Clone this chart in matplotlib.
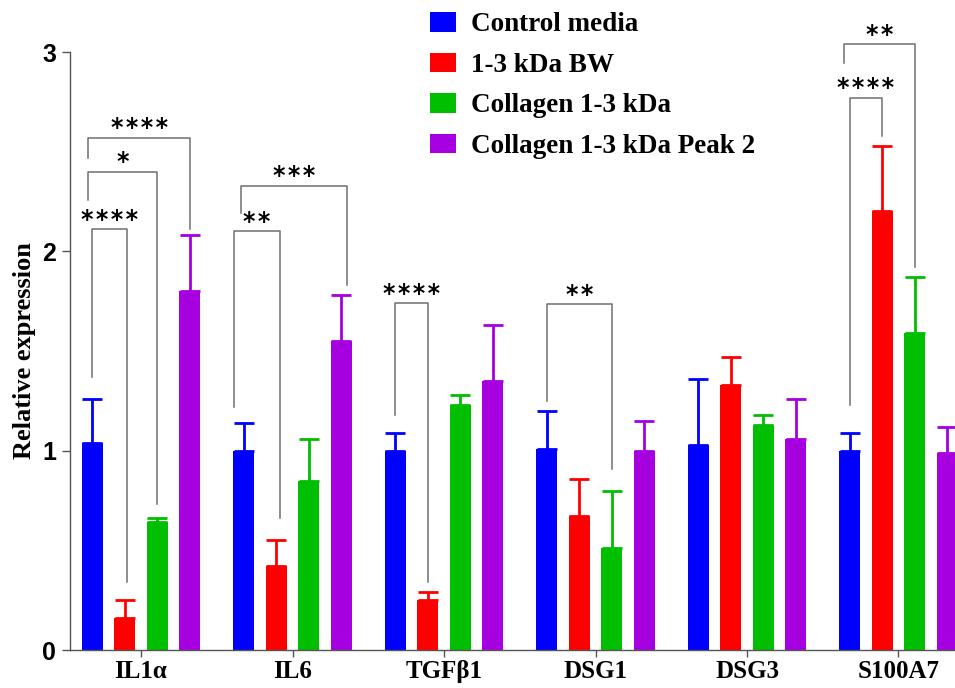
#!/usr/bin/env python3

import matplotlib
matplotlib.use("Agg")
import matplotlib.pyplot as plt
import numpy as np

# Data
genes = ["IL1α", "IL6", "TGFβ1", "DSG1", "DSG3", "S100A7"]
series_names = ["Control media", "1-3 kDa BW", "Collagen 1-3 kDa", "Collagen 1-3 kDa Peak 2"]

control_mean = [1.04, 1.00, 1.00, 1.01, 1.03, 1.00]
control_err = [0.22, 0.14, 0.09, 0.19, 0.33, 0.09]
bw_mean = [0.16, 0.42, 0.25, 0.67, 1.33, 2.20]
bw_err = [0.09, 0.13, 0.04, 0.19, 0.14, 0.33]
coll_mean = [0.64, 0.85, 1.23, 0.51, 1.13, 1.59]
coll_err = [0.02, 0.21, 0.05, 0.29, 0.05, 0.28]
peak2_mean = [1.80, 1.55, 1.35, 1.00, 1.06, 0.99]
peak2_err = [0.28, 0.23, 0.28, 0.15, 0.20, 0.13]

means = [control_mean, bw_mean, coll_mean, peak2_mean]
errs = [control_err, bw_err, coll_err, peak2_err]
colors = ["#0000FF", "#FF0000", "#00BE00", "#A600E0"]

# significance brackets: gene, bar a, bar b, label, top, left leg end, right leg end
sig_gene = [0, 0, 0, 1, 1, 2, 3, 5, 5]
sig_a = [0, 0, 0, 0, 0, 0, 0, 0, 0]
sig_b = [1, 2, 3, 1, 3, 1, 2, 1, 2]
sig_label = ["****", "*", "****", "**", "***", "****", "**", "****", "**"]
sig_top = [2.11, 2.40, 2.57, 2.10, 2.33, 1.74, 1.735, 2.77, 3.04]
sig_left_end = [1.37, 2.26, 2.47, 1.22, 2.19, 1.18, 1.25, 1.23, 2.945]
sig_right_end = [0.34, 0.73, 2.11, 0.66, 1.83, 0.34, 0.91, 2.58, 1.92]
sig_dx_left = [0.0, -0.026, -0.026, -0.066, -0.02, 0.0, 0.0, 0.0, -0.04]
sig_dx_right = [0.013, 0.0, 0.0, 0.026, 0.04, 0.0, 0.0, 0.0, 0.0]

# Plot
fig = plt.figure(figsize=(9.55, 6.88), dpi=100)
ax = fig.add_axes([70 / 955, 1 - 650 / 688, 1 - 70 / 955, (650 - 52) / 688])

x = np.arange(len(genes))
slot = 0.2145
width = 0.139
offsets = (np.arange(4) - 1.5) * slot

for k in range(4):
    ax.bar(x + offsets[k], means[k], width, color=colors[k], label=series_names[k], zorder=2)
    ax.errorbar(x + offsets[k], means[k], yerr=[np.zeros(len(genes)), errs[k]],
                fmt="none", ecolor=colors[k], elinewidth=2, capsize=7, capthick=2, zorder=2)

for g, a, b, lab, top, yl, yr, dl, dr in zip(sig_gene, sig_a, sig_b, sig_label, sig_top,
                                             sig_left_end, sig_right_end, sig_dx_left, sig_dx_right):
    xl = g + offsets[a] + dl
    xr = g + offsets[b] + dr
    ax.plot([xl, xl, xr, xr], [yl, top, top, yr], color="#6f6f6f", lw=1.1,
            clip_on=False, zorder=3)
    ax.text((xl + xr) / 2, top + 0.012, "\u200a".join(lab), ha="center", va="baseline",
            fontsize=17, fontweight="bold", family="DejaVu Sans", clip_on=False)

ax.set_xlim(-0.469, 5.373)
ax.set_ylim(0, 3)
ax.set_yticks([0, 1, 2, 3])
ax.set_yticklabels(["0", "1", "2", "3"], fontsize=18, fontweight="bold", family="Liberation Sans")
ax.set_xticks(x)
ax.set_xticklabels(genes, fontsize=18, fontweight="bold", family="Liberation Serif")
ax.tick_params(axis="y", length=6, width=1, color="#555555", pad=4)
ax.tick_params(axis="x", length=5, width=1, color="#555555", pad=2)
for side in ["top", "right"]:
    ax.spines[side].set_visible(False)
for side in ["left", "bottom"]:
    ax.spines[side].set_color("#555555")
    ax.spines[side].set_linewidth(1)

ax.set_ylabel("Relative expression", fontsize=19, fontweight="bold", family="Liberation Serif")
ax.yaxis.set_label_coords(-0.038, 0.5)

leg = fig.legend(loc="upper left", bbox_to_anchor=(430 / 955, 1 - 12 / 688), frameon=False,
                 prop={"family": "Liberation Serif", "weight": "bold", "size": 19.5},
                 handlelength=0.95, handleheight=0.75, handletextpad=0.55, labelspacing=0.56,
                 borderaxespad=0, borderpad=0)

fig.savefig("out.png", dpi=100)
